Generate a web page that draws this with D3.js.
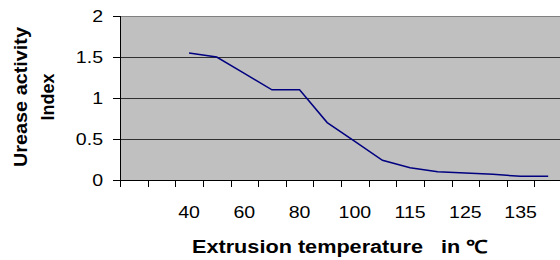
<!doctype html>
<html>
<head>
<meta charset="UTF-8">
<title>Urease activity index</title>
<script src="https://d3js.org/d3.v7.min.js"></script>
<style>
  body { margin: 0; background: #fff; }
  text { font-family: "Liberation Sans", Arial, sans-serif; fill: #000; }
</style>
</head>
<body>
<svg id="chart" width="560" height="260"></svg>
<script>
// category slots along the x axis (Excel category axis, every other label shown)
var categories = ["", "", "40", "50", "60", "70", "80", "90", "100", "110", "115", "120", "125", "130", "135", "140"];
var ureaseIndex = [null, null, 1.55, 1.5, 1.3, 1.1, 1.1, 0.7, 0.47, 0.24, 0.15, 0.1, 0.085, 0.07, 0.045, 0.045];
var yTicks = [0, 0.5, 1, 1.5, 2];
var labelEvery = 2;

var svg = d3.select("#chart");
var plotL = 120, plotR = 562, plotT = 16, plotB = 180;

var x = d3.scaleBand().domain(d3.range(categories.length)).range([plotL, plotR]).padding(0);
var y = d3.scaleLinear().domain([0, 2]).range([plotB, plotT]);

// plot area
svg.append("rect")
    .attr("x", plotL).attr("y", plotT)
    .attr("width", plotR - plotL).attr("height", plotB - plotT)
    .attr("fill", "#c0c0c0");
svg.append("line")
    .attr("x1", plotL).attr("x2", plotR)
    .attr("y1", plotT + 0.5).attr("y2", plotT + 0.5)
    .attr("stroke", "#808080");

// gridlines
svg.selectAll(".grid")
    .data(yTicks.filter(function (d) { return d > 0 && d < 2; }))
    .enter().append("line")
    .attr("class", "grid")
    .attr("x1", plotL).attr("x2", plotR)
    .attr("y1", function (d) { return Math.round(y(d)) + 0.5; })
    .attr("y2", function (d) { return Math.round(y(d)) + 0.5; })
    .attr("stroke", "#000").attr("stroke-opacity", 0.75);

// y axis
svg.append("line")
    .attr("x1", plotL + 0.5).attr("x2", plotL + 0.5)
    .attr("y1", plotT).attr("y2", plotB + 7)
    .attr("stroke", "#000");
svg.selectAll(".ytick")
    .data(yTicks)
    .enter().append("line")
    .attr("x1", plotL - 7).attr("x2", plotL)
    .attr("y1", function (d) { return Math.round(y(d)) + 0.5; })
    .attr("y2", function (d) { return Math.round(y(d)) + 0.5; })
    .attr("stroke", "#000");
svg.selectAll(".ylab")
    .data(yTicks)
    .enter().append("text")
    .attr("text-anchor", "end")
    .attr("font-size", 17)
    .attr("transform", function (d) { return "translate(103," + (y(d) + 6) + ") scale(1.15,1)"; })
    .text(function (d) { return d; });

// x axis
svg.append("line")
    .attr("x1", plotL).attr("x2", plotR)
    .attr("y1", plotB + 0.5).attr("y2", plotB + 0.5)
    .attr("stroke", "#000");
var bounds = d3.range(categories.length + 1).map(function (i) { return plotL + i * x.bandwidth(); });
svg.selectAll(".xtick")
    .data(bounds)
    .enter().append("line")
    .attr("x1", function (d) { return Math.round(d) + 0.5; })
    .attr("x2", function (d) { return Math.round(d) + 0.5; })
    .attr("y1", plotB).attr("y2", plotB + 7)
    .attr("stroke", "#000");
svg.selectAll(".xlab")
    .data(categories.map(function (c, i) { return { c: c, i: i }; }).filter(function (d) { return d.i % labelEvery === 0; }))
    .enter().append("text")
    .attr("text-anchor", "middle")
    .attr("font-size", 17)
    .attr("transform", function (d) { return "translate(" + (x(d.i) + x.bandwidth() / 2) + ",218) scale(1.15,1)"; })
    .text(function (d) { return d.c; });

// series
var line = d3.line()
    .defined(function (d) { return d != null; })
    .x(function (d, i) { return x(i) + x.bandwidth() / 2; })
    .y(function (d) { return y(d); });
svg.append("path")
    .datum(ureaseIndex)
    .attr("d", line)
    .attr("fill", "none")
    .attr("stroke", "#000080")
    .attr("stroke-width", 1.5);

// titles
svg.append("text")
    .attr("x", 340).attr("y", 253)
    .attr("text-anchor", "middle")
    .attr("font-size", 18).attr("font-weight", "bold")
    .attr("textLength", 296).attr("lengthAdjust", "spacingAndGlyphs")
    .text("Extrusion temperature\u00a0\u00a0 in \u2103");

var yTitle = svg.append("text")
    .attr("text-anchor", "middle")
    .attr("font-size", 18).attr("font-weight", "bold")
    .attr("transform", "translate(0,97) rotate(-90)");
yTitle.append("tspan").attr("x", 0).attr("y", 27)
    .attr("textLength", 140).attr("lengthAdjust", "spacingAndGlyphs")
    .text("Urease activity");
yTitle.append("tspan").attr("x", 0).attr("y", 54)
    .text("Index");
</script>
</body>
</html>
